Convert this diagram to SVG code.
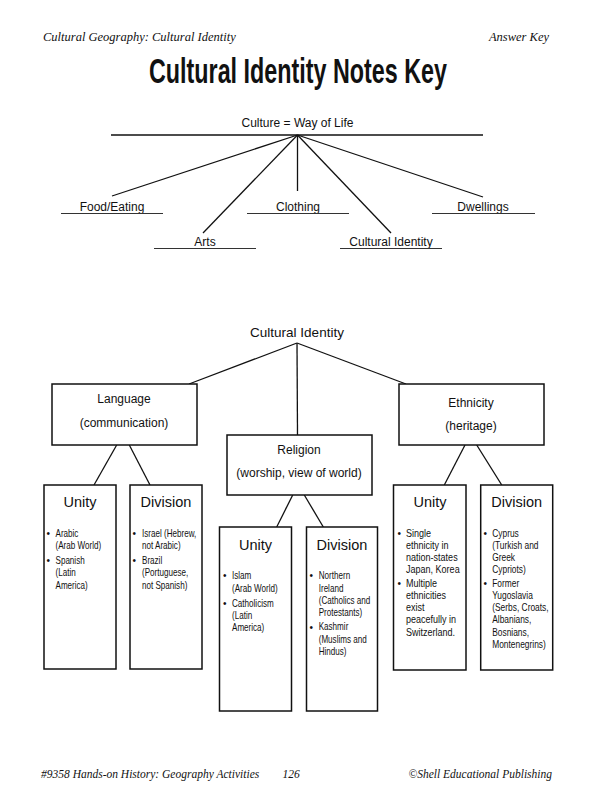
<svg xmlns="http://www.w3.org/2000/svg" width="598" height="800" viewBox="0 0 598 800">
<style>
.hd{font-family:"Liberation Serif",serif;font-style:italic;font-size:12.5px;fill:#111}
.t{font-family:"Liberation Sans",Arial,sans-serif;font-size:12px;fill:#111}
.h{font-family:"Liberation Sans",Arial,sans-serif;font-size:14.5px;fill:#111;text-anchor:middle}
.b{font-family:"Liberation Sans",Arial,sans-serif;font-size:10.5px;fill:#111}
.dot{font-family:"Liberation Sans",Arial,sans-serif;font-size:10px;fill:#111}
.m{text-anchor:middle}
.ln{stroke:#111;stroke-width:1.3;fill:none}
.ul{stroke:#333;stroke-width:1;fill:none}
.box{fill:#fff;stroke:#111;stroke-width:1.5}
</style>
<rect width="598" height="800" fill="#fff"/>

<g id="header">
<text class="hd" x="43" y="41">Cultural Geography: Cultural Identity</text>
<text class="hd" x="549" y="41" text-anchor="end">Answer Key</text>
<text x="298" y="83" text-anchor="middle" textLength="298" lengthAdjust="spacingAndGlyphs" style="font-family:'Liberation Sans',Arial,sans-serif;font-weight:bold;font-size:35px;fill:#111">Cultural Identity Notes Key</text>
</g>

<g id="connectors">
<line class="ln" x1="297.5" y1="135" x2="112" y2="196"/>
<line class="ln" x1="297.5" y1="135" x2="203" y2="233"/>
<line class="ln" x1="297.5" y1="135" x2="297.5" y2="191"/>
<line class="ln" x1="297.5" y1="135" x2="391" y2="233"/>
<line class="ln" x1="297.5" y1="135" x2="483" y2="197"/>

<line class="ln" x1="297" y1="343" x2="189" y2="384"/>
<line class="ln" x1="297" y1="343" x2="297.5" y2="435"/>
<line class="ln" x1="297" y1="343" x2="406" y2="384"/>

<line class="ln" x1="116.7" y1="445" x2="94" y2="485"/>
<line class="ln" x1="129.3" y1="445" x2="150" y2="485"/>
<line class="ln" x1="292.7" y1="495" x2="276.7" y2="527"/>
<line class="ln" x1="304.3" y1="495" x2="323.3" y2="527"/>
<line class="ln" x1="465" y1="445" x2="444.3" y2="485"/>
<line class="ln" x1="476.7" y1="445" x2="501.7" y2="485"/>
</g>

<g id="culture">
<text class="t m" x="297.5" y="127">Culture = Way of Life</text>
<line class="ln" x1="111" y1="135" x2="483" y2="135"/>
</g>
<g id="food">
<text class="t m" x="112" y="211">Food/Eating</text>
<line class="ul" x1="61" y1="213.5" x2="163" y2="213.5"/>
</g>
<g id="clothing">
<text class="t m" x="298" y="211">Clothing</text>
<line class="ul" x1="247" y1="213.5" x2="349" y2="213.5"/>
</g>
<g id="dwellings">
<text class="t m" x="483" y="211">Dwellings</text>
<line class="ul" x1="432" y1="213.5" x2="535" y2="213.5"/>
</g>
<g id="arts">
<text class="t m" x="205" y="246">Arts</text>
<line class="ul" x1="154" y1="248.5" x2="256" y2="248.5"/>
</g>
<g id="cultural-identity-label">
<text class="t m" x="391" y="246">Cultural Identity</text>
<line class="ul" x1="340" y1="248.5" x2="442" y2="248.5"/>
</g>

<g id="cultural-identity">
<text class="t m" x="297" y="337" style="font-size:13.5px">Cultural Identity</text>
</g>

<g id="language">
<rect class="box" x="52" y="384" width="145" height="61"/>
<text class="t m" x="124" y="403">Language</text>
<text class="t m" x="124" y="427">(communication)</text>
</g>
<g id="religion">
<rect class="box" x="227" y="435" width="145" height="60"/>
<text class="t m" x="299" y="454">Religion</text>
<text class="t m" x="299" y="477">(worship, view of world)</text>
</g>
<g id="ethnicity">
<rect class="box" x="399" y="384" width="145" height="61"/>
<text class="t m" x="471" y="407">Ethnicity</text>
<text class="t m" x="471" y="430">(heritage)</text>
</g>

<g id="language-unity">
<rect class="box" x="44" y="485" width="72" height="184"/>
<text class="h" x="80" y="507">Unity</text>
<text class="dot" x="46.5" y="536.5">•</text>
<text class="dot" x="46.5" y="564">•</text>
<text class="b" transform="translate(55.5,0) scale(0.77,1)"><tspan x="0" y="536.7">Arabic</tspan><tspan x="0" y="549">(Arab World)</tspan><tspan x="0" y="564">Spanish</tspan><tspan x="0" y="576.5">(Latin</tspan><tspan x="0" y="589">America)</tspan></text>
</g>
<g id="language-division">
<rect class="box" x="130" y="485" width="72" height="184"/>
<text class="h" x="166" y="507">Division</text>
<text class="dot" x="132.5" y="536.5">•</text>
<text class="dot" x="132.5" y="564">•</text>
<text class="b" transform="translate(142,0) scale(0.77,1)"><tspan x="0" y="536.7">Israel (Hebrew,</tspan><tspan x="0" y="549">not Arabic)</tspan><tspan x="0" y="564">Brazil</tspan><tspan x="0" y="576.5">(Portuguese,</tspan><tspan x="0" y="589">not Spanish)</tspan></text>
</g>

<g id="religion-unity">
<rect class="box" x="219.5" y="527" width="72" height="184"/>
<text class="h" x="255.5" y="549.5">Unity</text>
<text class="dot" x="223" y="579.3">•</text>
<text class="dot" x="223" y="606.7">•</text>
<text class="b" transform="translate(232,0) scale(0.77,1)"><tspan x="0" y="579.3">Islam</tspan><tspan x="0" y="591.7">(Arab World)</tspan><tspan x="0" y="606.7">Catholicism</tspan><tspan x="0" y="619">(Latin</tspan><tspan x="0" y="631.3">America)</tspan></text>
</g>
<g id="religion-division">
<rect class="box" x="306.5" y="527" width="71" height="184"/>
<text class="h" x="342" y="549.5">Division</text>
<text class="dot" x="309.5" y="579.3">•</text>
<text class="dot" x="309.5" y="630.5">•</text>
<text class="b" transform="translate(318.7,0) scale(0.77,1)"><tspan x="0" y="579.3">Northern</tspan><tspan x="0" y="591.7">Ireland</tspan><tspan x="0" y="604">(Catholics and</tspan><tspan x="0" y="616.3">Protestants)</tspan><tspan x="0" y="630.5">Kashmir</tspan><tspan x="0" y="642.7">(Muslims and</tspan><tspan x="0" y="655">Hindus)</tspan></text>
</g>

<g id="ethnicity-unity">
<rect class="box" x="393.5" y="485" width="72.5" height="185"/>
<text class="h" x="430" y="507">Unity</text>
<text class="dot" x="397.5" y="536.7">•</text>
<text class="dot" x="397.5" y="587.3">•</text>
<text class="b" transform="translate(406,0) scale(0.86,1)"><tspan x="0" y="536.7">Single</tspan><tspan x="0" y="548.7">ethnicity in</tspan><tspan x="0" y="560.7">nation-states</tspan><tspan x="0" y="572.7">Japan, Korea</tspan><tspan x="0" y="587.3">Multiple</tspan><tspan x="0" y="599.3">ethnicities</tspan><tspan x="0" y="611.3">exist</tspan><tspan x="0" y="623.3">peacefully in</tspan><tspan x="0" y="635.7">Switzerland.</tspan></text>
</g>
<g id="ethnicity-division">
<rect class="box" x="480.7" y="485" width="72" height="185"/>
<text class="h" x="516.7" y="507">Division</text>
<text class="dot" x="483.5" y="536.7">•</text>
<text class="dot" x="483.5" y="587.3">•</text>
<text class="b" transform="translate(492.2,0) scale(0.8,1)"><tspan x="0" y="536.7">Cyprus</tspan><tspan x="0" y="548.7">(Turkish and</tspan><tspan x="0" y="560.7">Greek</tspan><tspan x="0" y="572.7">Cypriots)</tspan><tspan x="0" y="587.3">Former</tspan><tspan x="0" y="599.3">Yugoslavia</tspan><tspan x="0" y="611.3">(Serbs, Croats,</tspan><tspan x="0" y="623.3">Albanians,</tspan><tspan x="0" y="635.7">Bosnians,</tspan><tspan x="0" y="647.7">Montenegrins)</tspan></text>
</g>

<g id="footer">
<text class="hd" x="41" y="778" style="font-size:11.5px">#9358 Hands-on History: Geography Activities</text>
<text class="hd" x="291" y="778" text-anchor="middle" style="font-size:11.5px">126</text>
<text class="hd" x="552" y="778" text-anchor="end" style="font-size:11.5px">©Shell Educational Publishing</text>
</g>
</svg>
